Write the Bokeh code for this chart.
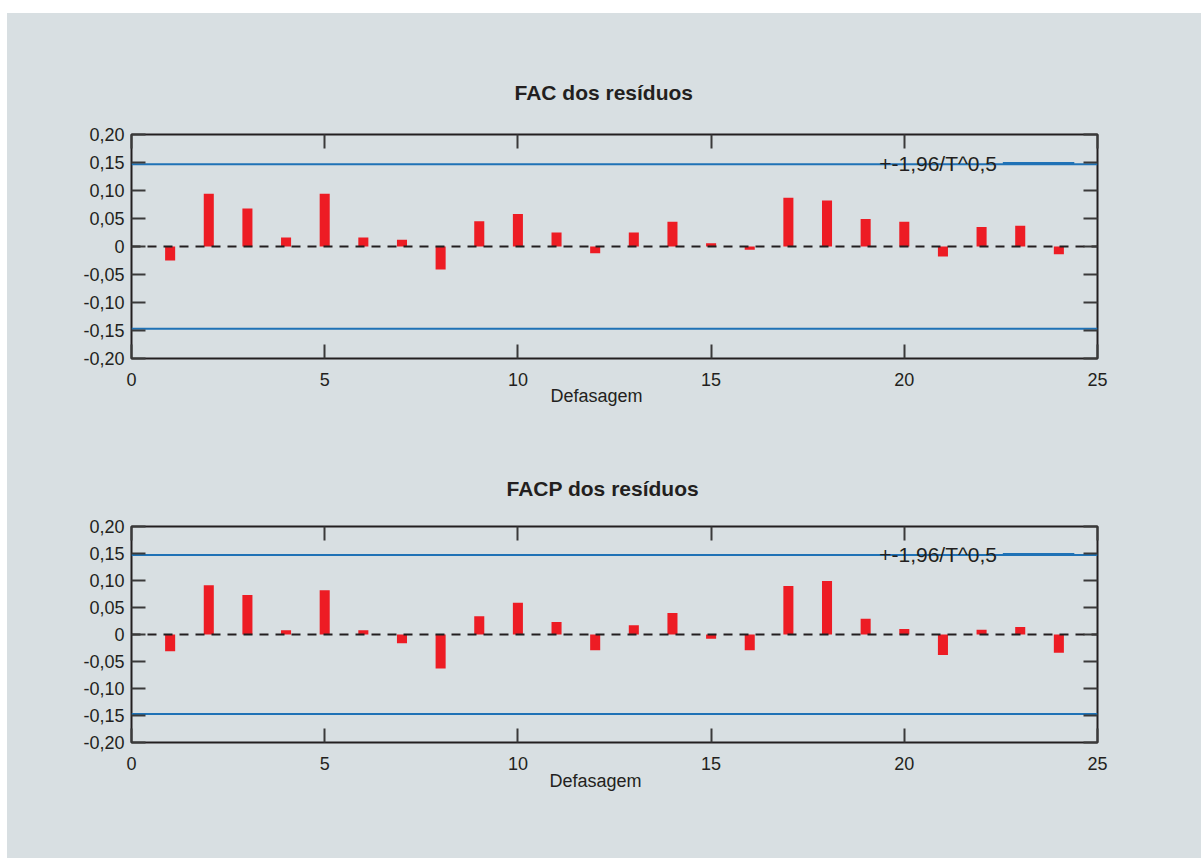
from bokeh.plotting import figure
from bokeh.models import Range1d, FixedTicker, LinearAxis, Span, Label, Title, Spacer, ColumnDataSource
from bokeh.layouts import column, row
from bokeh.embed import file_html
from bokeh.resources import INLINE

# ---- data ----
lags = list(range(1, 25))
fac = [-0.025, 0.094, 0.068, 0.016, 0.094, 0.016, 0.012, -0.041,
       0.045, 0.058, 0.025, -0.012, 0.025, 0.044, 0.006, -0.006,
       0.087, 0.082, 0.049, 0.044, -0.018, 0.035, 0.037, -0.014]
facp = [-0.031, 0.091, 0.073, 0.008, 0.082, 0.008, -0.016, -0.063,
        0.034, 0.059, 0.023, -0.029, 0.017, 0.040, -0.008, -0.029,
        0.090, 0.099, 0.029, 0.010, -0.038, 0.009, 0.014, -0.034]
conf_band = 0.147
legend_label = "+-1,96/T^0,5"
titles = ["FAC dos resíduos", "FACP dos resíduos"]
x_label = "Defasagem"
y_ticks = [-0.2, -0.15, -0.1, -0.05, 0.0, 0.05, 0.1, 0.15, 0.2]
y_tick_labels = ["-0,20", "-0,15", "-0,10", "-0,05", "0", "0,05", "0,10", "0,15", "0,20"]
x_ticks = [0, 5, 10, 15, 20, 25]

BG = "#d8dfe2"
RED = "#ed1c24"
BLUE = "#1f72b6"
INK = "#231f20"
FONT = "Liberation Sans"
W = 1194


def style_axis(ax, show_labels):
    ax.axis_line_color = None
    ax.major_tick_in = 14
    ax.major_tick_out = 0
    ax.minor_tick_in = 0
    ax.minor_tick_out = 0
    ax.major_tick_line_color = "#3a3a3a"
    ax.major_tick_line_width = 2
    ax.major_label_text_font = FONT
    ax.major_label_text_color = INK
    if show_labels:
        ax.major_label_text_font_size = "18px"
    else:
        ax.major_label_text_font_size = "0px"
        ax.major_label_text_alpha = 0
        ax.major_label_standoff = 0


def make(title, values, height, b_top, b_bottom, b_left, b_right,
         title_off, title_standoff, xlab_off, xlab_standoff):
    p = figure(width=W, height=height, x_range=Range1d(0, 25), y_range=Range1d(-0.2, 0.2),
               output_backend="svg", toolbar_location=None,
               x_axis_location=None, y_axis_location=None, title=None,
               min_border_top=b_top, min_border_bottom=b_bottom,
               min_border_left=b_left, min_border_right=b_right)
    p.background_fill_color = BG
    p.border_fill_color = BG
    p.outline_line_color = INK
    p.outline_line_width = 2
    p.xgrid.visible = False
    p.ygrid.visible = False

    ylab = dict(zip(y_ticks, y_tick_labels))
    left = LinearAxis(ticker=FixedTicker(ticks=y_ticks), major_label_overrides=ylab)
    style_axis(left, True)
    left.major_label_standoff = 7
    right = LinearAxis(ticker=FixedTicker(ticks=y_ticks))
    style_axis(right, False)
    below = LinearAxis(ticker=FixedTicker(ticks=x_ticks))
    style_axis(below, True)
    below.major_label_standoff = 14
    above = LinearAxis(ticker=FixedTicker(ticks=x_ticks))
    style_axis(above, False)
    p.add_layout(left, "left")
    p.add_layout(right, "right")
    p.add_layout(below, "below")
    p.add_layout(above, "above")

    p.add_layout(Title(text=title, align="left", offset=title_off, text_font=FONT,
                       text_font_size="21px", text_font_style="bold", text_color=INK,
                       standoff=title_standoff), "above")
    p.add_layout(Title(text=x_label, align="left", offset=xlab_off, text_font=FONT,
                       text_font_size="18px", text_font_style="normal", text_color=INK,
                       standoff=xlab_standoff), "below")

    src = ColumnDataSource(dict(lag=lags, val=values))
    p.vbar(x="lag", top="val", bottom=0, width=0.26, source=src,
           fill_color=RED, line_color=None)

    for loc in (conf_band, -conf_band):
        p.add_layout(Span(location=loc, dimension="width", line_color=BLUE,
                          line_width=2, level="glyph"))
    p.add_layout(Span(location=0, dimension="width", line_color=INK, line_width=2,
                      line_dash="9 7", level="glyph"))

    # legend (text on the left, key line on the right, gnuplot style)
    ly = conf_band + 0.002
    p.add_layout(Label(x=22.4, y=ly, text=legend_label, text_align="right",
                       text_baseline="middle", text_font=FONT, text_font_size="21px",
                       text_color=INK))
    p.segment(x0=[22.55], y0=[ly], x1=[24.4], y1=[ly],
              line_color=BLUE, line_width=2)
    return p


p1 = make(titles[0], fac, 427, 121, 82, 123, 104, 383, 62, 419, -10)
p2 = make(titles[1], facp, 418, 86, 116, 124, 103, 375, 54, 418, -7)

inner = column(p1, p2, spacing=0, styles={"background-color": BG})
layout = column(Spacer(height=13, width=W + 7),
                row(Spacer(width=7, height=845), inner, spacing=0),
                spacing=0)
open("out.html", "w").write(file_html(layout, INLINE))
